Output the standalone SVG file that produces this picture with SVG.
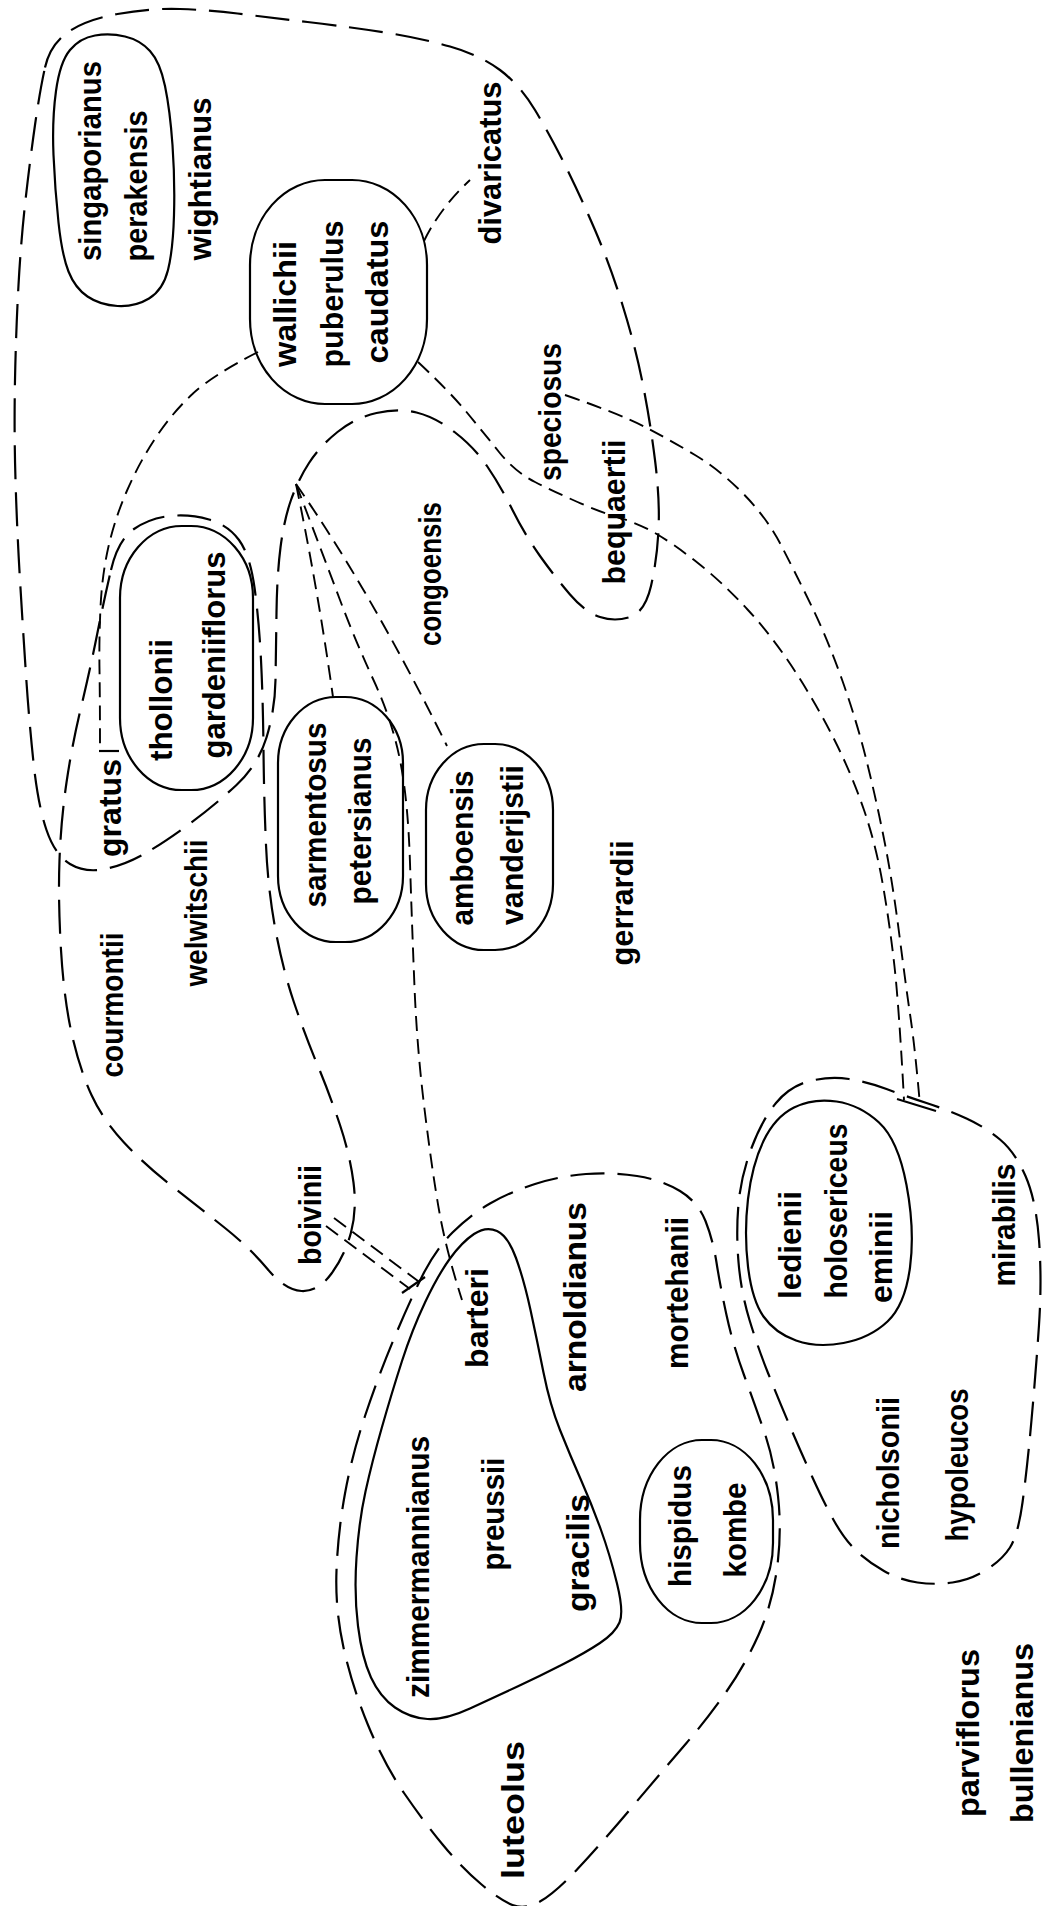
<svg xmlns="http://www.w3.org/2000/svg" width="1045" height="1906" viewBox="0 0 1045 1906">
<style>
.t{font-family:"Liberation Sans",Arial,sans-serif;font-size:31px;font-weight:bold;fill:#000;text-anchor:middle;dominant-baseline:central}
.s{fill:none;stroke:#000;stroke-width:2.2}
.d{fill:none;stroke:#000;stroke-width:2.2;stroke-dasharray:34 13}
.c{fill:none;stroke:#000;stroke-width:1.9;stroke-dasharray:15 8}
</style>
<rect width="1045" height="1906" fill="#fff"/>
<g id="groups">
<path id="g-asia" class="d" d="M45,67.5 Q50,45 67.5,32.5 Q85,20 117.5,14 Q150,8 180,9 Q210,10 237.5,13.5 Q265,17 307.5,22 Q350,27 385,32.5 Q420,38 450,46.5 Q480,55 500,70 Q520,85 535,110 Q550,135 565,165 Q580,195 595,230 Q610,265 622.5,305 Q635,345 642.5,382.5 Q650,420 655,460 Q660,500 658.5,530 Q657,560 651,586 Q645,612 630,617 Q615,622 600,617 Q585,612 570,594.5 Q555,577 540,556 Q525,535 512.5,510 Q500,485 487,466 Q474,447 454.5,432 Q435,417 416.5,412.5 Q398,408 376.5,413 Q355,418 337.5,432 Q320,446 309,463 Q298,480 291,500 Q284,520 280.5,547.5 Q277,575 276.5,612.5 Q276,650 275.5,680 Q275,710 266.5,737.5 Q258,765 236.5,785 Q215,805 190,823.5 Q165,842 145,853.5 Q125,865 105,869 Q85,873 70,864 Q55,855 46.5,830 Q38,805 33.5,762.5 Q29,720 26,675 Q23,630 20,580 Q17,530 15.5,480 Q14,430 15,380 Q16,330 18.5,285 Q21,240 25.5,200 Q30,160 35,125 Q40,90 45,67.5 Z"/>
<path id="g-courmontii" class="d" d="M111,570 Q118,540 134,529 Q150,518 170,516 Q190,514 209,519.5 Q228,525 239,540 Q250,555 254.5,587.5 Q259,620 261,660 Q263,700 263.5,750 Q264,800 266,845 Q268,890 275.5,930 Q283,970 294,1002.5 Q305,1035 317.5,1065 Q330,1095 340,1125 Q350,1155 353.5,1182.5 Q357,1210 351,1232.5 Q345,1255 331.5,1273.5 Q318,1292 301.5,1291 Q285,1290 267.5,1269 Q250,1248 225,1228 Q200,1208 172.5,1186.5 Q145,1165 124,1142.5 Q103,1120 91.5,1095 Q80,1070 72,1035 Q64,1000 61,950 Q58,900 59.5,860 Q61,820 66.5,782.5 Q72,745 81,707.5 Q90,670 97,635 Q104,600 111,570 Z"/>
<path id="g-luteolus" class="d" d="M421.5,1277.5 Q435,1250 452.5,1232.5 Q470,1215 490,1203.5 Q510,1192 535,1184 Q560,1176 586,1174 Q612,1172 637,1176 Q662,1180 680,1191 Q698,1202 705.5,1221 Q713,1240 716.5,1262.5 Q720,1285 726.5,1315 Q733,1345 744,1375 Q755,1405 764.5,1432.5 Q774,1460 778,1496 Q782,1532 777,1568.5 Q772,1605 758.5,1635 Q745,1665 726.5,1691.5 Q708,1718 686.5,1743 Q665,1768 632.5,1806.5 Q600,1845 577.5,1869 Q555,1893 540,1901.5 Q525,1910 512.5,1905 Q500,1900 481,1884 Q462,1868 443,1845 Q424,1822 404,1793 Q384,1764 368,1725 Q352,1686 343.5,1647.5 Q335,1609 336.5,1570.5 Q338,1532 345,1493.5 Q352,1455 365,1416 Q378,1377 393,1341 Q408,1305 421.5,1277.5 Z"/>
<path id="g-mirabilis" class="d" d="M776,1103 Q790,1086 810,1081 Q830,1076 849,1079 Q868,1082 886.5,1089 Q905,1096 926.5,1103 Q948,1110 966.5,1118.5 Q985,1127 1000,1139.5 Q1015,1152 1025.5,1176 Q1036,1200 1039,1240 Q1042,1280 1039,1325 Q1036,1370 1031.5,1420 Q1027,1470 1022.5,1502.5 Q1018,1535 1010,1547.5 Q1002,1560 986,1570 Q970,1580 952.5,1582.5 Q935,1585 917.5,1582.5 Q900,1580 884,1571 Q868,1562 856.5,1551 Q845,1540 835,1522.5 Q825,1505 812.5,1477.5 Q800,1450 789,1424 Q778,1398 768,1373 Q758,1348 749.5,1320 Q741,1292 738.5,1262 Q736,1232 738.5,1204 Q741,1176 751.5,1148 Q762,1120 776,1103 Z"/>
</g>
<g id="connectors">
<path class="c" d="M258,352 Q213,375 193,393.5 Q173,412 156.5,436.5 Q140,461 127.5,489.5 Q115,518 108.5,546.5 Q102,575 100.5,607.5 Q99,640 99.5,670 Q100,700 100,750"/>
<path class="s" d="M99,751 H119"/>
<path class="c" d="M424,241 Q440,208 470,180"/>
<path class="c" d="M418,362 Q450,392 466.5,412 Q483,432 499,452 Q515,472 535,482 Q555,492 577.5,502 Q600,512 620,518 Q640,524 657.5,534.5 Q675,545 698.5,563.5 Q722,582 747.5,609.5 Q773,637 795.5,672 Q818,707 835,741 Q852,775 864,810 Q876,845 883,885.5 Q890,926 894.5,966.5 Q899,1007 904,1100"/>
<path class="c" d="M565,395 Q620,414 645,427 Q670,440 695,455 Q720,470 743.5,494 Q767,518 781,545 Q795,572 811.5,606 Q828,640 842.5,681 Q857,722 867,762.5 Q877,803 885,844 Q893,885 899.5,936 Q906,987 910.5,1017.5 Q915,1048 920,1105"/>
<path class="s" d="M897,1099 L936,1111"/>
<path class="c" d="M296,484 Q318,590 333,697"/>
<path class="c" d="M296,484 Q370,590 447,746"/>
<path class="c" d="M296,484 Q325,560 340,600 Q355,640 373.5,680 Q392,720 400,760 Q408,800 410,863 Q412,926 414.5,987 Q417,1048 424.5,1109 Q432,1170 439,1210 Q446,1250 462,1300"/>
<path class="c" d="M326,1226 L410,1289"/>
<path class="c" d="M334,1218 L418,1281"/>
<path class="s" d="M402,1293 L425,1277"/>
</g>
<g id="n-singaporianus">
<path class="s" d="M56,91 Q60,62 70,50 Q80,38 95,35.5 Q110,33 125,36.5 Q140,40 150,51 Q160,62 165,86 Q170,110 172.5,145 Q175,180 174,215 Q173,250 168,270 Q163,290 149,298.5 Q135,307 117.5,306 Q100,305 87.5,296.5 Q75,288 68.5,271.5 Q62,255 58.5,222.5 Q55,190 53.5,155 Q52,120 56,91 Z"/>
<text class="t" transform="translate(90,161) rotate(-90)" textLength="200" lengthAdjust="spacingAndGlyphs">singaporianus</text>
<text class="t" transform="translate(136,186) rotate(-90)" textLength="151" lengthAdjust="spacingAndGlyphs">perakensis</text>
</g>
<g id="n-wightianus"><text class="t" transform="translate(200,179) rotate(-90)" textLength="163" lengthAdjust="spacingAndGlyphs">wightianus</text></g>
<g id="n-wallichii">
<rect class="s" x="250" y="180" width="177" height="224" rx="75" ry="85"/>
<text class="t" transform="translate(285,304) rotate(-90)" textLength="126" lengthAdjust="spacingAndGlyphs">wallichii</text>
<text class="t" transform="translate(332,294) rotate(-90)" textLength="147" lengthAdjust="spacingAndGlyphs">puberulus</text>
<text class="t" transform="translate(377,292) rotate(-90)" textLength="143" lengthAdjust="spacingAndGlyphs">caudatus</text>
</g>
<g id="n-divaricatus"><text class="t" transform="translate(490,163) rotate(-90)" textLength="163" lengthAdjust="spacingAndGlyphs">divaricatus</text></g>
<g id="n-speciosus"><text class="t" transform="translate(550,412) rotate(-90)" textLength="138" lengthAdjust="spacingAndGlyphs">speciosus</text></g>
<g id="n-bequaertii"><text class="t" transform="translate(614,512) rotate(-90)" textLength="145" lengthAdjust="spacingAndGlyphs">bequaertii</text></g>
<g id="n-congoensis"><text class="t" transform="translate(430,574) rotate(-90)" textLength="144" lengthAdjust="spacingAndGlyphs">congoensis</text></g>
<g id="n-thollonii">
<rect class="s" x="120" y="526" width="133" height="264" rx="62" ry="72"/>
<text class="t" transform="translate(161,700) rotate(-90)" textLength="122" lengthAdjust="spacingAndGlyphs">thollonii</text>
<text class="t" transform="translate(214,655) rotate(-90)" textLength="207" lengthAdjust="spacingAndGlyphs">gardeniiflorus</text>
</g>
<g id="n-gratus"><text class="t" transform="translate(110,808) rotate(-90)" textLength="98" lengthAdjust="spacingAndGlyphs">gratus</text></g>
<g id="n-welwitschii"><text class="t" transform="translate(196,913) rotate(-90)" textLength="147" lengthAdjust="spacingAndGlyphs">welwitschii</text></g>
<g id="n-courmontii"><text class="t" transform="translate(112,1005) rotate(-90)" textLength="145" lengthAdjust="spacingAndGlyphs">courmontii</text></g>
<g id="n-boivinii"><text class="t" transform="translate(310,1215) rotate(-90)" textLength="100" lengthAdjust="spacingAndGlyphs">boivinii</text></g>
<g id="n-sarmentosus">
<rect class="s" x="278" y="697" width="125" height="245" rx="58" ry="66"/>
<text class="t" transform="translate(315,815) rotate(-90)" textLength="185" lengthAdjust="spacingAndGlyphs">sarmentosus</text>
<text class="t" transform="translate(360,821) rotate(-90)" textLength="167" lengthAdjust="spacingAndGlyphs">petersianus</text>
</g>
<g id="n-amboensis">
<rect class="s" x="426" y="744" width="127" height="206" rx="58" ry="66"/>
<text class="t" transform="translate(462,848) rotate(-90)" textLength="155" lengthAdjust="spacingAndGlyphs">amboensis</text>
<text class="t" transform="translate(512,845) rotate(-90)" textLength="160" lengthAdjust="spacingAndGlyphs">vanderijstii</text>
</g>
<g id="n-gerrardii"><text class="t" transform="translate(622,903) rotate(-90)" textLength="125" lengthAdjust="spacingAndGlyphs">gerrardii</text></g>
<g id="n-barteri">
<path class="s" d="M474,1234 Q486,1226 497,1231 Q508,1236 516,1258 Q524,1280 530.5,1310 Q537,1340 543.5,1372.5 Q550,1405 560,1430 Q570,1455 581,1480 Q592,1505 601,1530 Q610,1555 617,1583.5 Q624,1612 619.5,1622.5 Q615,1633 600,1643 Q585,1653 562.5,1664.5 Q540,1676 517.5,1686.5 Q495,1697 470,1708.5 Q445,1720 427.5,1719 Q410,1718 395,1707.5 Q380,1697 371,1677.5 Q362,1658 358,1626 Q354,1594 356.5,1557.5 Q359,1521 365.5,1491.5 Q372,1462 382,1427 Q392,1392 402,1361 Q412,1330 425,1302.5 Q438,1275 450,1258.5 Q462,1242 474,1234 Z"/>
<text class="t" transform="translate(477,1318) rotate(-90)" textLength="100" lengthAdjust="spacingAndGlyphs">barteri</text>
<text class="t" transform="translate(418,1567) rotate(-90)" textLength="262" lengthAdjust="spacingAndGlyphs">zimmermannianus</text>
<text class="t" transform="translate(493,1514) rotate(-90)" textLength="113" lengthAdjust="spacingAndGlyphs">preussii</text>
<text class="t" transform="translate(578,1553) rotate(-90)" textLength="118" lengthAdjust="spacingAndGlyphs">gracilis</text>
</g>
<g id="n-arnoldianus"><text class="t" transform="translate(575,1297) rotate(-90)" textLength="190" lengthAdjust="spacingAndGlyphs">arnoldianus</text></g>
<g id="n-mortehanii"><text class="t" transform="translate(677,1293) rotate(-90)" textLength="152" lengthAdjust="spacingAndGlyphs">mortehanii</text></g>
<g id="n-hispidus">
<rect class="s" x="640" y="1440" width="133" height="183" rx="62" ry="80"/>
<text class="t" transform="translate(680,1526) rotate(-90)" textLength="122" lengthAdjust="spacingAndGlyphs">hispidus</text>
<text class="t" transform="translate(735,1530) rotate(-90)" textLength="95" lengthAdjust="spacingAndGlyphs">kombe</text>
</g>
<g id="n-luteolus"><text class="t" transform="translate(513,1810) rotate(-90)" textLength="138" lengthAdjust="spacingAndGlyphs">luteolus</text></g>
<g id="n-ledienii">
<path class="s" d="M794,1107.5 Q813,1098 836.5,1101.5 Q860,1105 879,1122.5 Q898,1140 906.5,1185 Q915,1230 910,1267.5 Q905,1305 887.5,1321.5 Q870,1338 843.5,1343 Q817,1348 796,1340.5 Q775,1333 763.5,1316.5 Q752,1300 748,1266.5 Q744,1233 748,1199 Q752,1165 763.5,1141 Q775,1117 794,1107.5 Z"/>
<text class="t" transform="translate(790,1245) rotate(-90)" textLength="108" lengthAdjust="spacingAndGlyphs">ledienii</text>
<text class="t" transform="translate(836,1211) rotate(-90)" textLength="175" lengthAdjust="spacingAndGlyphs">holosericeus</text>
<text class="t" transform="translate(881,1257) rotate(-90)" textLength="92" lengthAdjust="spacingAndGlyphs">eminii</text>
</g>
<g id="n-mirabilis"><text class="t" transform="translate(1004,1225) rotate(-90)" textLength="123" lengthAdjust="spacingAndGlyphs">mirabilis</text></g>
<g id="n-nicholsonii"><text class="t" transform="translate(888,1473) rotate(-90)" textLength="152" lengthAdjust="spacingAndGlyphs">nicholsonii</text></g>
<g id="n-hypoleucos"><text class="t" transform="translate(957,1465) rotate(-90)" textLength="153" lengthAdjust="spacingAndGlyphs">hypoleucos</text></g>
<g id="n-parviflorus"><text class="t" transform="translate(968,1733) rotate(-90)" textLength="168" lengthAdjust="spacingAndGlyphs">parviflorus</text></g>
<g id="n-bullenianus"><text class="t" transform="translate(1022,1733) rotate(-90)" textLength="180" lengthAdjust="spacingAndGlyphs">bullenianus</text></g>
</svg>
